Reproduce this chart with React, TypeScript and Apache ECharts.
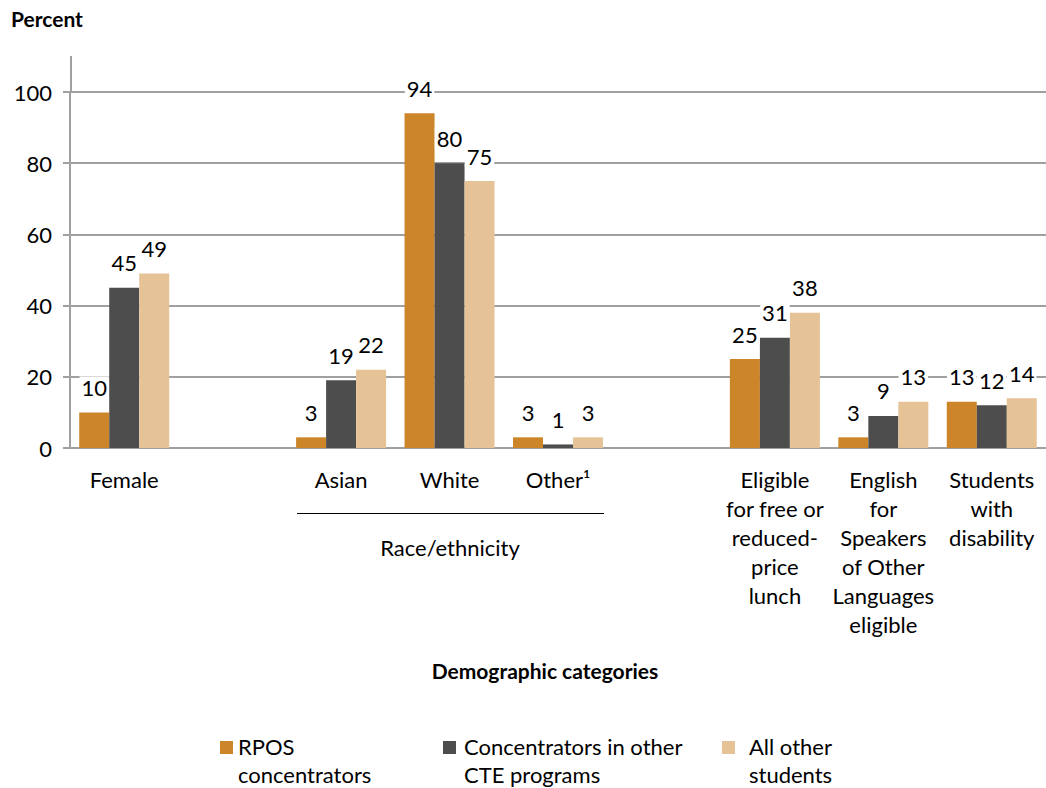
import React, { useEffect, useRef } from "react";
import * as echarts from "echarts";

const categories = [
  "Female",
  "",
  "Asian",
  "White",
  "Other¹",
  "",
  "Eligible\nfor free or\nreduced-\nprice\nlunch",
  "English\nfor\nSpeakers\nof Other\nLanguages\neligible",
  "Students\nwith\ndisability",
];
const seriesNames = ["RPOS concentrators", "Concentrators in other CTE programs", "All other students"];
const legendLines = [
  ["RPOS", "concentrators"],
  ["Concentrators in other", "CTE programs"],
  ["All other", "students"],
];
const rpos = [10, null, 3, 94, 3, null, 25, 3, 13];
const otherCte = [45, null, 19, 80, 1, null, 31, 9, 12];
const allOther = [49, null, 22, 75, 3, null, 38, 13, 14];
const yTicks = [0, 20, 40, 60, 80, 100];

const colors = ["#CD852A", "#4D4D4D", "#E5C396"];
const FONT = "Lato, 'Open Sans', sans-serif";
const FS = 22;

export default function App() {
  const ref = useRef<HTMLDivElement>(null);
  useEffect(() => {
    if (!ref.current) return;
    const chart = echarts.init(ref.current, undefined, { renderer: "svg" });
    const values = [rpos, otherCte, allOther];
    const legendX = [[220, 238], [443, 464], [722, 749]];
    const legendGraphics: any[] = [];
    legendLines.forEach((lines, i) => {
      legendGraphics.push({
        type: "rect",
        shape: { x: legendX[i][0], y: 741, width: 13, height: 13 },
        style: { fill: colors[i] },
      });
      legendGraphics.push({
        type: "text",
        x: legendX[i][1],
        y: 732,
        style: {
          text: lines.join("\n"),
          font: `${FS}px ${FONT}`,
          fill: "#000",
          lineHeight: 28,
          verticalAlign: "top",
          align: "left",
        },
      });
    });
    chart.setOption({
      animation: false,
      textStyle: { fontFamily: FONT },
      grid: { left: 70, right: 0, top: 92, bottom: 340, containLabel: false },
      xAxis: {
        type: "category",
        data: categories,
        axisLine: { show: true, lineStyle: { color: "#A0A0A0", width: 2 } },
        axisTick: { show: false },
        axisLabel: {
          interval: 0,
          color: "#000",
          fontSize: FS,
          fontFamily: FONT,
          lineHeight: 29,
          margin: 17,
          align: "center",
        },
      },
      yAxis: {
        type: "value",
        min: yTicks[0],
        max: yTicks[yTicks.length - 1],
        interval: 20,
        axisLine: { show: true, lineStyle: { color: "#A0A0A0", width: 2 } },
        axisTick: { show: true, length: 7, lineStyle: { color: "#A0A0A0", width: 2 } },
        axisLabel: { color: "#000", fontSize: FS, fontFamily: FONT, margin: 18 },
        splitLine: { show: true, lineStyle: { color: "#A0A0A0", width: 2 } },
      },
      series: seriesNames.map((name, i) => ({
        name,
        type: "bar",
        data: values[i],
        barWidth: 30,
        barGap: "0%",
        itemStyle: { color: colors[i] },
        label: {
          show: true,
          position: "top",
          distance: 14,
          color: "#000",
          fontSize: FS,
          fontFamily: FONT,
          backgroundColor: "#fff",
          padding: [0, 2],
        },
      })),
      graphic: [
        {
          type: "text",
          left: 11,
          top: 8,
          style: { text: "Percent", font: `bold 21px ${FONT}`, fill: "#000" },
        },
        {
          type: "line",
          shape: { x1: 71, y1: 56, x2: 71, y2: 92 },
          style: { stroke: "#A0A0A0", lineWidth: 2 },
        },
        {
          type: "line",
          shape: { x1: 297, y1: 513.5, x2: 604, y2: 513.5 },
          style: { stroke: "#000", lineWidth: 1 },
        },
        {
          type: "text",
          x: 450,
          y: 547,
          style: {
            text: "Race/ethnicity",
            font: `${FS}px ${FONT}`,
            fill: "#000",
            align: "center",
            verticalAlign: "middle",
          },
        },
        {
          type: "text",
          x: 545,
          y: 670,
          style: {
            text: "Demographic categories",
            font: `bold 21px ${FONT}`,
            fill: "#000",
            align: "center",
            verticalAlign: "middle",
          },
        },
        ...legendGraphics,
      ],
    });
    return () => chart.dispose();
  }, []);
  return (
    <div
      ref={ref}
      style={{ position: "fixed", left: 0, top: 0, width: 1046, height: 788, background: "#fff" }}
    />
  );
}
